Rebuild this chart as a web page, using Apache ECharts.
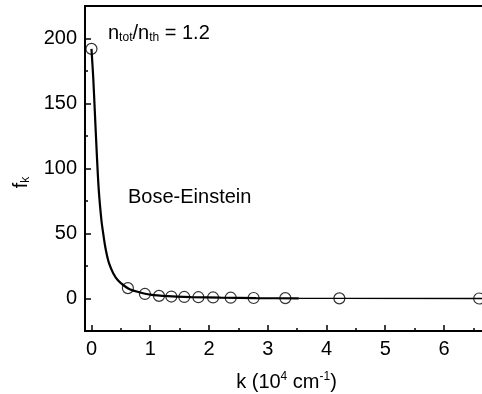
<!DOCTYPE html>
<html><head><meta charset="utf-8">
<script src="https://cdn.jsdelivr.net/npm/echarts@6/dist/echarts.min.js"></script>
<style>html,body{margin:0;padding:0;background:#fff}#c{width:482px;height:394px}</style>
</head><body><div id="c"></div>
<script>
// Data
var dataK = [0, 0.62, 0.91, 1.15, 1.36, 1.58, 1.82, 2.07, 2.37, 2.76, 3.30, 4.22, 6.60];
var dataF = [192, 8, 3.5, 2, 1.5, 1.2, 1, 0.8, 0.6, 0.4, 0.3, 0.1, 0];
var curveK = [0, 0.03, 0.056, 0.09, 0.125, 0.17, 0.2, 0.23, 0.26, 0.3, 0.37, 0.45, 0.55, 0.65, 0.8, 1.0, 1.3, 1.7, 2.2, 2.8, 3.53];
var curveF = [192, 170, 145, 112, 83, 60, 50, 41, 34, 27, 19.5, 14, 10, 7.2, 5, 3, 1.8, 1.1, 0.6, 0.3, 0.1];
var tailK = [3.53, 4.22, 6.60, 6.75];
var tailF = [0.1, 0.05, 0, 0];
var xTicks = [0, 1, 2, 3, 4, 5, 6];
var xMinor = [0.5, 1.5, 2.5, 3.5, 4.5, 5.5, 6.5];
var yTicks = [0, 50, 100, 150, 200];
var yMinor = [25, 75, 125, 175];

function pairs(a, b) { return a.map(function (v, i) { return [v, b[i]]; }); }

var FONT = 'Liberation Sans, Arial, sans-serif';
var chart = echarts.init(document.getElementById('c'));
var xBase = { type: 'value', min: -0.11, max: 6.75 };
var yBase = { type: 'value', min: -25, max: 225 };
var subRich = { sub: { fontSize: 12, fontFamily: FONT, color: '#000', padding: [10, 0, 0, 0], verticalAlign: 'bottom' } };
chart.setOption({
  animation: false,
  backgroundColor: '#fff',
  grid: { left: 85, top: 6, right: -6, bottom: 63, containLabel: false, outerBoundsMode: 'none',
    show: true, borderColor: '#000', borderWidth: 2, backgroundColor: 'transparent' },
  xAxis: [
    Object.assign({}, xBase, {
      position: 'bottom',
      axisLine: { show: true, onZero: false, lineStyle: { color: '#000', width: 2 } },
      axisTick: { show: true, inside: true, length: 6, customValues: xTicks, lineStyle: { color: '#000', width: 1.5 } },
      axisLabel: { customValues: xTicks, color: '#000', fontSize: 20, fontFamily: FONT, margin: 8, showMinLabel: true, showMaxLabel: true },
      splitLine: { show: false },
      name: 'k (10{sup|4} cm{sup|-1})',
      nameLocation: 'middle', nameGap: 40,
      nameTextStyle: { color: '#000', fontSize: 20, fontFamily: FONT, rich: { sup: { fontSize: 12, verticalAlign: 'top', padding: [0, 0, 10, 0], color: '#000', fontFamily: FONT } } }
    }),
    Object.assign({}, xBase, {
      position: 'bottom', gridIndex: 0,
      axisLine: { show: false, onZero: false },
      axisTick: { show: true, inside: true, length: 3, customValues: xMinor, lineStyle: { color: '#000', width: 1.5 } },
      axisLabel: { show: false },
      splitLine: { show: false }
    })
  ],
  yAxis: [
    Object.assign({}, yBase, {
      position: 'left',
      axisLine: { show: true, onZero: false, lineStyle: { color: '#000', width: 2 } },
      axisTick: { show: true, inside: true, length: 6, customValues: yTicks, lineStyle: { color: '#000', width: 1.5 } },
      axisLabel: { customValues: yTicks, color: '#000', fontSize: 20, fontFamily: FONT, margin: 8 },
      splitLine: { show: false },
      name: 'f{sub|k}',
      nameLocation: 'middle', nameGap: 53, nameRotate: 90,
      nameTextStyle: { color: '#000', fontSize: 20, fontFamily: FONT, padding: [0, 28, 0, 0], rich: subRich }
    }),
    Object.assign({}, yBase, {
      position: 'left',
      axisLine: { show: false, onZero: false },
      axisTick: { show: true, inside: true, length: 3, customValues: yMinor, lineStyle: { color: '#000', width: 1.5 } },
      axisLabel: { show: false },
      splitLine: { show: false }
    })
  ],
  graphic: [
    { type: 'text', x: 108, y: 33,
      style: { text: 'n{sub|tot}/n{sub|th} = 1.2', fill: '#000', font: '20px ' + FONT, align: 'left', verticalAlign: 'middle',
        rich: { sub: { fontSize: 12, fontFamily: FONT, fill: '#000', padding: [10, 0, 0, 0], verticalAlign: 'bottom' } } } },
    { type: 'text', x: 128, y: 197,
      style: { text: 'Bose-Einstein', fill: '#000', font: '20px ' + FONT, align: 'left', verticalAlign: 'middle' } }
  ],
  series: [
    { type: 'line', data: pairs(curveK, curveF), smooth: 0.3, showSymbol: false, lineStyle: { color: '#000', width: 2.2 }, clip: true },
    { type: 'line', data: pairs(tailK, tailF), showSymbol: false, lineStyle: { color: '#000', width: 1.3 }, clip: true },
    { type: 'scatter', data: pairs(dataK, dataF), symbol: 'circle', symbolSize: 11,
      itemStyle: { color: 'rgba(0,0,0,0)', borderColor: '#000', borderWidth: 1.2 }, clip: false }
  ]
});
</script></body></html>
